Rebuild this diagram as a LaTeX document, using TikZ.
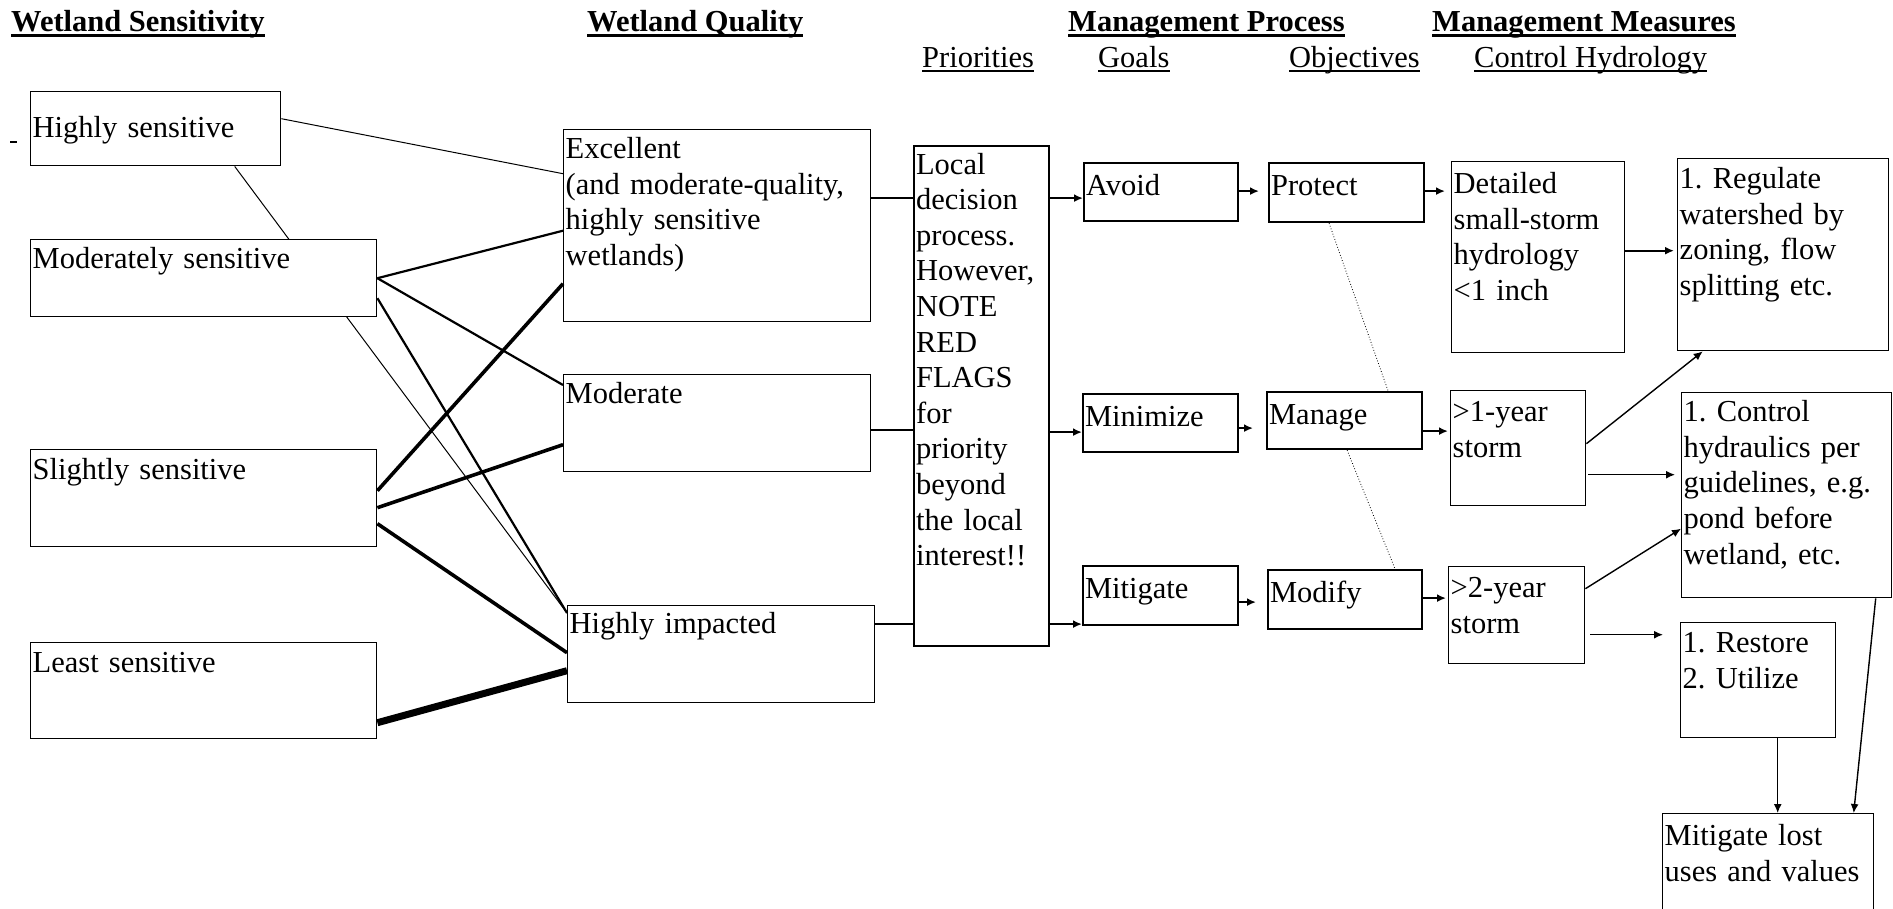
\documentclass[tikz,border=0pt]{standalone}
\usepackage{fontspec}
\setmainfont{Liberation Serif}
\usetikzlibrary{arrows.meta}
\frenchspacing

\definecolor{linecolor}{RGB}{0,0,0}
\pgfdeclarelayer{back}
\pgfsetlayers{back,main}

\begin{document}
\begin{tikzpicture}[x=1pt, y=-1pt,
  txt/.style={font=\fontsize{30.5}{35.6}\selectfont},
  wbox/.style={txt, draw=linecolor, fill=white, line width=1.4pt, anchor=north west,
    align=left, inner xsep=2pt, inner ysep=0pt},
  gbox/.style={wbox, line width=2.2pt},
  head/.style={anchor=base west, inner sep=0pt, font=\fontsize{30.5}{35.6}\selectfont\bfseries},
  subhead/.style={anchor=base west, inner sep=0pt, txt},
  arr/.style={-{Latex[length=9pt,width=8pt]}, line width=1.8pt, draw=linecolor}]

  \useasboundingbox (0,0) rectangle (1893,908);
  \clip (0,0) rectangle (1893,908);

  % Column titles
  \node[head] (t1) at (11,31) {Wetland Sensitivity};
  \node[head] (t2) at (587,31) {Wetland Quality};
  \node[head] (t3) at (1068,31) {Management Process};
  \node[head] (t4) at (1432,31) {Management Measures};
  \node[subhead] (s1) at (922,67) {Priorities};
  \node[subhead] (s2) at (1098,67) {Goals};
  \node[subhead] (s3) at (1289,67) {Objectives};
  \node[subhead] (s4) at (1474,67) {Control Hydrology};
  \foreach \n in {t1,t2,t3,t4}
    \draw[line width=2.5pt] ([yshift=-4.5pt]\n.base west) -- ([yshift=-4.5pt]\n.base east);
  \foreach \n in {s1,s2,s3,s4}
    \draw[line width=1.4pt] ([yshift=-4pt]\n.base west) -- ([yshift=-4pt]\n.base east);

  % Wetland sensitivity
  \node[wbox, text width=246pt, text height=46pt, text depth=28pt] (hs) at (30,91) {Highly sensitive};
  \node[wbox, text width=342pt, text height=29pt, text depth=48pt] (ms) at (30,239) {Moderately sensitive};
  \node[wbox, text width=342pt, text height=30pt, text depth=67pt] (ss) at (30,449) {Slightly sensitive};
  \node[wbox, text width=342pt, text height=30pt, text depth=66pt] (ls) at (30,642) {Least sensitive};
  \draw[line width=1.5pt] (10,142) -- (17,142);

  % Wetland quality
  \node[wbox, text width=303pt, text height=29pt, text depth=163pt] (ex) at (563,129)
    {Excellent\\(and moderate-quality,\\highly sensitive\\wetlands)};
  \node[wbox, text width=303pt, text height=29pt, text depth=68pt] (mo) at (563,374) {Moderate};
  \node[wbox, text width=303pt, text height=28pt, text depth=69pt] (hi) at (567,605) {Highly impacted};

  % Sensitivity to quality links
  \begin{pgfonlayer}{back}
    \draw[line width=1pt] ([xshift=79pt]hs.south) -- ([yshift=-8pt]hi.north west);
  \end{pgfonlayer}
  \draw[line width=1pt] ([yshift=10pt]hs.east) -- ([yshift=52pt]ex.west);
  \draw[line width=2.2pt] (ms.east) -- ([yshift=-5pt]ex.west);
  \draw[line width=2.2pt] (ms.east) -- ([yshift=-11pt]mo.north west);
  \draw[line width=2.2pt] ([yshift=-20pt]ms.east) -- ([yshift=-8pt]hi.north west);
  \draw[line width=3.6pt] ([yshift=7.5pt]ss.east) -- ([yshift=-58pt]ex.west);
  \draw[line width=3.6pt] ([yshift=-9.5pt]ss.east) -- ([yshift=-21.5pt]mo.west);
  \draw[line width=3.6pt] ([yshift=-25.5pt]ss.east) -- ([yshift=1.5pt]hi.west);
  \draw[line width=7pt] ([yshift=-32pt]ls.east) -- ([yshift=-16.5pt]hi.west);

  % Management process
  \node[gbox, text width=131pt, text height=28pt, text depth=472pt] (ld) at (913,145)
    {Local\\decision\\process.\\However,\\NOTE\\RED\\FLAGS\\for\\priority\\beyond\\the local\\interest!!};
  \node[gbox, text width=150pt, text height=32pt, text depth=26pt] (av) at (1083,162) {Avoid};
  \node[gbox, text width=151pt, text height=32pt, text depth=26pt] (mi) at (1082,393) {Minimize};
  \node[gbox, text width=151pt, text height=32pt, text depth=27pt] (mt) at (1082,565) {Mitigate};
  \node[gbox, text width=151pt, text height=32pt, text depth=27pt] (pr) at (1268,162) {Protect};
  \node[gbox, text width=151pt, text height=32pt, text depth=25pt] (ma) at (1266,391) {Manage};
  \node[gbox, text width=150pt, text height=32pt, text depth=27pt] (mf) at (1267,569) {Modify};

  \draw[line width=1.8pt] ([yshift=28pt]ex.east) -- ([yshift=28pt]ex.east -| ld.west);
  \draw[line width=1.8pt] ([yshift=-6.5pt]mo.east) -- ([yshift=-6.5pt]mo.east -| ld.west);
  \draw[line width=1.8pt] ([yshift=30.5pt]hi.east) -- ([yshift=30.5pt]hi.east -| ld.west);
  \draw[arr] ([yshift=-6pt]av.west -| ld.east) -- ([yshift=-6pt]av.west);
  \draw[arr] ([yshift=-9pt]mi.west -| ld.east) -- ([yshift=-9pt]mi.west);
  \draw[arr] ([yshift=-28.5pt]mt.west -| ld.east) -- ([yshift=-28.5pt]mt.west);
  \draw[arr, shorten >=9pt] ([yshift=1pt]av.east) -- ([yshift=1pt]av.east -| pr.west);
  \draw[arr, shorten >=13pt] ([yshift=-5pt]mi.east) -- ([yshift=-5pt]mi.east -| ma.west);
  \draw[arr, shorten >=11pt] ([yshift=-6.5pt]mt.east) -- ([yshift=-6.5pt]mt.east -| mf.west);
  \draw[line width=0.8pt, dotted] ([xshift=-17.5pt]pr.south) -- ([xshift=43.5pt]ma.north);
  \draw[line width=0.8pt, dotted] ([xshift=2.5pt]ma.south) -- ([xshift=50pt]mf.north);

  % Management measures
  \node[wbox, text width=169pt, text height=32pt, text depth=159pt] (dt) at (1451,161)
    {Detailed\\small-storm\\hydrology\\<1 inch};
  \node[wbox, text width=131pt, text height=31pt, text depth=84pt] (y1) at (1450,390) {>1-year\\storm};
  \node[wbox, text width=132pt, text height=31pt, text depth=66pt] (y2) at (1448,566) {>2-year\\storm};
  \node[wbox, text width=207pt, text height=30pt, text depth=162pt] (rg) at (1677,158)
    {1. Regulate\\watershed by\\zoning, flow\\splitting etc.};
  \node[wbox, text width=206pt, text height=29pt, text depth=176pt] (ct) at (1681,392)
    {1. Control\\hydraulics per\\guidelines, e.g.\\pond before\\wetland, etc.};
  \node[wbox, text width=151pt, text height=30pt, text depth=85pt] (rs) at (1680,622) {1. Restore\\2. Utilize};
  \node[wbox, text width=207pt, text height=32pt, text depth=85pt] (ml) at (1662,813)
    {Mitigate lost\\uses and values};

  \draw[arr, shorten >=6pt] ([yshift=1.5pt]pr.east) -- ([yshift=1.5pt]pr.east -| dt.west);
  \draw[arr, shorten >=2pt] ([yshift=-10.5pt]ma.east) -- ([yshift=-10.5pt]ma.east -| y1.west);
  \draw[arr, shorten >=2pt] ([yshift=1.5pt]mf.east) -- ([yshift=1.5pt]mf.east -| y2.west);
  \draw[arr, shorten >=3pt] ([yshift=6.5pt]dt.east) -- ([yshift=6.5pt]dt.east -| rg.west);
  \draw[arr, line width=1.4pt] ([yshift=4.5pt]y1.east) -- ([xshift=-80.5pt]rg.south);
  \draw[arr, line width=1.4pt, shorten <=2pt, shorten >=6pt] ([yshift=-26.5pt]y1.east) -- ([yshift=-26.5pt]y1.east -| ct.west);
  \draw[arr, line width=1.4pt] ([yshift=26.5pt]y2.east) -- ([yshift=-33.5pt]ct.west);
  \draw[arr, line width=1.4pt, shorten <=5pt, shorten >=17pt] ([yshift=-19.5pt]y2.east) -- ([yshift=-19.5pt]y2.east -| rs.west);
  \draw[arr, line width=1.4pt] ([xshift=19.5pt]rs.south) -- ([xshift=19.5pt]rs.south |- ml.north);
  \draw[arr, line width=1.4pt] ([xshift=89pt]ct.south) -- ([xshift=85.5pt]ml.north);
\end{tikzpicture}
\end{document}
